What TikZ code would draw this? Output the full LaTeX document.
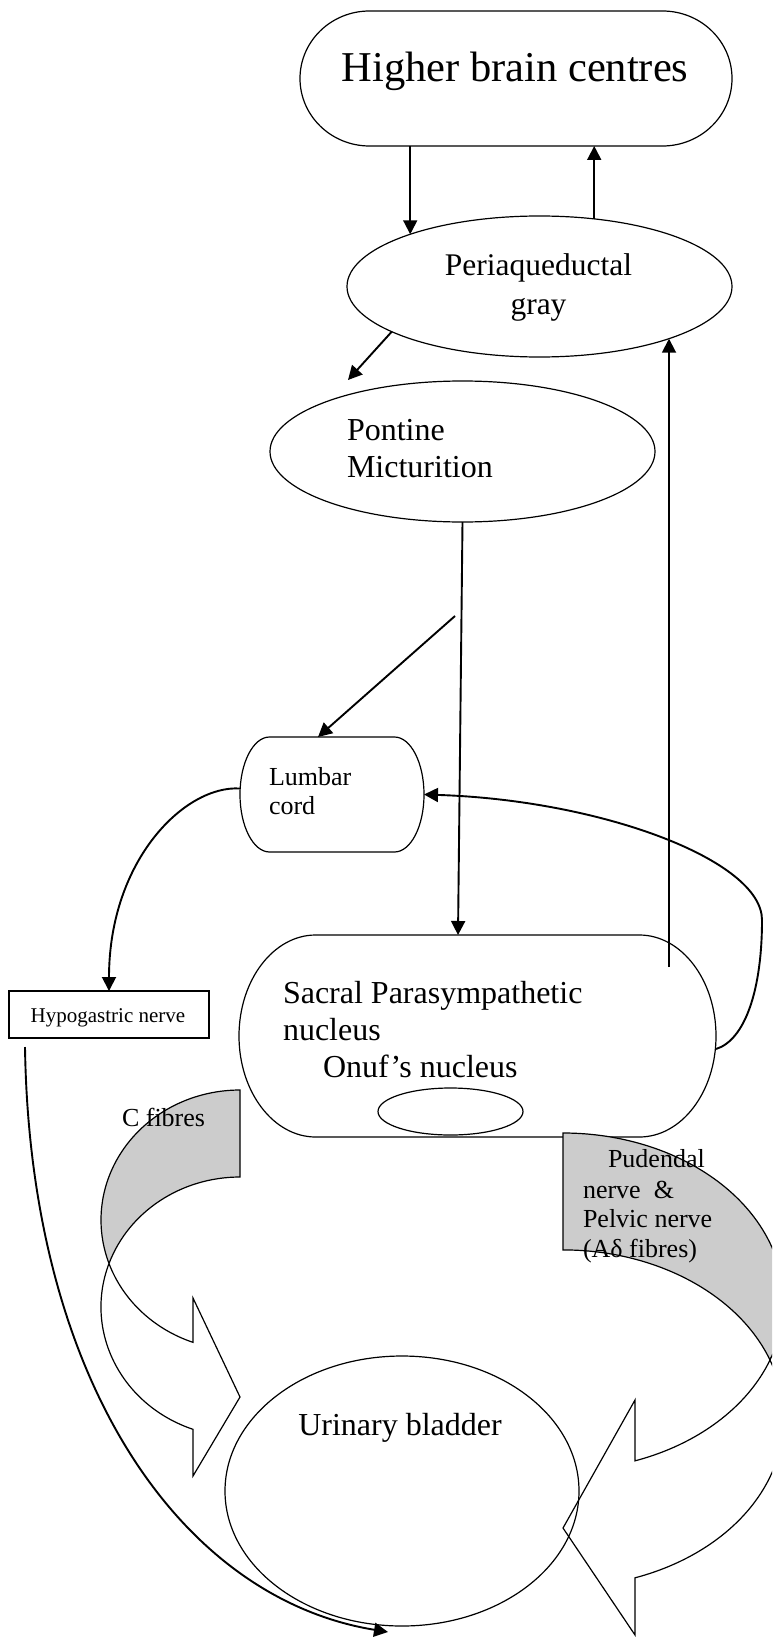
\documentclass[tikz,border=0pt]{standalone}
\usepackage{fontspec}
\setmainfont{Liberation Serif}
\usetikzlibrary{arrows.meta,shapes.geometric}
\definecolor{backgrey}{RGB}{204,204,204}
\newcommand\termpath[3]{%
  \draw[shapeline] ([xshift=#2]#1.north west) -- ([xshift=-#2]#1.north east)
    arc[start angle=90, end angle=-90, x radius=#2, y radius=#3]
    -- ([xshift=#2]#1.south west)
    arc[start angle=270, end angle=90, x radius=#2, y radius=#3] -- cycle;}
\begin{document}
\begin{tikzpicture}[x=1pt,y=1pt,
  shapeline/.style={line width=1.2pt},
  arr/.style={line width=1.9pt,-{Triangle[length=14pt,width=14pt]}},
  term/.style={inner sep=0pt,outer sep=0pt},
  oval/.style={ellipse,draw,shapeline,inner sep=0pt,outer sep=0pt},
  txt/.style={inner sep=0pt,outer sep=0pt},
  fhuge/.style={font=\fontsize{42.5}{48}\selectfont},
  fbig/.style={font=\fontsize{32}{37}\selectfont},
  fpag/.style={font=\fontsize{31.5}{36}\selectfont},
  fmid/.style={font=\fontsize{26}{30}\selectfont},
  fsmall/.style={font=\fontsize{21}{25}\selectfont}]
\useasboundingbox (0,0) rectangle (772,-1637);
\clip (0,0) rectangle (772,-1637);

% terminator boxes
\node[term, minimum width=432pt, minimum height=135pt] (hbc) at (516,-78.5) {};
\termpath{hbc}{69.5pt}{67.5pt}
\node[term, minimum width=477pt, minimum height=202pt] (spn) at (477.5,-1036) {};
\termpath{spn}{76.7pt}{101pt}
\node[term, minimum width=184pt, minimum height=115pt] (lum) at (332,-794.5) {};
\termpath{lum}{29.6pt}{57.5pt}
\node[draw, shapeline, minimum width=200pt, minimum height=47pt, inner sep=0pt, outer sep=0pt] (hyp) at (109,-1014.5) {};

% ellipses
\node[oval, minimum width=385pt, minimum height=141pt] (pag) at (539.5,-286.5) {};
\node[oval, minimum width=385pt, minimum height=141pt] (pmc) at (462.5,-451.5) {};
\node[oval, minimum width=145pt, minimum height=47pt] (onuf) at (450.5,-1111.5) {};

% C fibres curved arrow
\filldraw[shapeline, fill=backgrey] (240,-1090)
  arc[start angle=90, end angle=199.55, x radius=139pt, y radius=130pt]
  arc[start angle=160.45, end angle=90, x radius=139pt, y radius=130pt] -- cycle;
\filldraw[shapeline, fill=white] (109,-1263.5)
  arc[start angle=199.55, end angle=250.24, x radius=139pt, y radius=130pt]
  -- (193,-1298) -- (240,-1397) -- (193,-1476) -- (193,-1429.3)
  arc[start angle=250.24, end angle=160.45, x radius=139pt, y radius=130pt] -- cycle;

% Pudendal curved arrow
\filldraw[shapeline, fill=backgrey] (563,-1133)
  arc[start angle=90, end angle=-20.3, x radius=220.7pt, y radius=168.5pt]
  arc[start angle=20.3, end angle=90, x radius=220.7pt, y radius=168.5pt] -- cycle;
\filldraw[shapeline, fill=white] (770,-1360)
  arc[start angle=-20.3, end angle=-70.96, x radius=220.7pt, y radius=168.5pt]
  -- (635,-1400) -- (563,-1528) -- (635,-1635) -- (635,-1577.8)
  arc[start angle=-70.96, end angle=20.3, x radius=220.7pt, y radius=168.5pt] -- cycle;

% bladder
\node[oval, minimum width=354pt, minimum height=270pt] (blad) at (402,-1491) {};

% free ends
\coordinate (a3end) at (348,-380);
\coordinate (a5start) at (455,-616);
\coordinate (a6start) at (669,-967);
\coordinate (a9start) at (25,-1047);
\coordinate (a9end) at (388,-1632);
\coordinate (loopR) at (762,-920);

% connectors
\draw[arr] (hbc.south -| pag.158.6) -- (pag.158.6);
\draw[arr] (pag.51.7) -- (pag.51.7 |- hbc.south);
\draw[arr] (pag.197.25) -- (a3end);
\draw[arr] (pmc.south) -- ([xshift=-19.5pt]spn.north);
\draw[arr] (a5start) -- ([xshift=-14pt]lum.north);
\draw[arr] (a6start) -- (a6start |- pag.338.04);
\draw[arr] ([yshift=-13pt]spn.east) .. controls (745,-1040) and (762,-990) .. (loopR)
  .. controls (762,-860) and (600,-800) .. (lum.east);
\draw[arr] ([yshift=6pt]lum.west) .. controls (185,-785) and (109,-860) .. (hyp.north);
\draw[arr] (a9start) .. controls (30,-1380) and (180,-1598) .. (a9end);

% texts
\node[txt, fhuge, anchor=base] (t1) at (515,-81.7) {Higher brain centres};
\node[txt, fpag, anchor=base] (t2) at (538.5,-276) {Periaqueductal};
\node[txt, fpag, anchor=base] (t3) at (538.5,-314) {gray};
\node[txt, fbig, anchor=base west] (t4) at (347,-440) {Pontine};
\node[txt, fbig, anchor=base west] (t5) at (347,-477) {Micturition};
\node[txt, fmid, anchor=base west] (t6) at (269,-785) {Lumbar};
\node[txt, fmid, anchor=base west] (t7) at (269,-814) {cord};
\node[txt, fsmall, anchor=base] (t8) at (108,-1022) {Hypogastric nerve};
\node[txt, fbig, anchor=base west] (t9) at (283,-1003) {Sacral Parasympathetic};
\node[txt, fbig, anchor=base west] (t10) at (283,-1040) {nucleus};
\node[txt, fbig, anchor=base west] (t11) at (323,-1077) {Onuf’s nucleus};
\node[txt, fmid, anchor=base west] (t12) at (122,-1126) {C fibres};
\node[txt, fmid, anchor=base west] (t13) at (608,-1167) {Pudendal};
\node[txt, fmid, anchor=base west] (t14) at (583,-1198) {nerve\ \ \&};
\node[txt, fmid, anchor=base west] (t15) at (583,-1227) {Pelvic nerve};
\node[txt, fmid, anchor=base west] (t16) at (583,-1257) {(Aδ fibres)};
\node[txt, fbig, anchor=base] (t17) at (400,-1435) {Urinary bladder};
\end{tikzpicture}
\end{document}
